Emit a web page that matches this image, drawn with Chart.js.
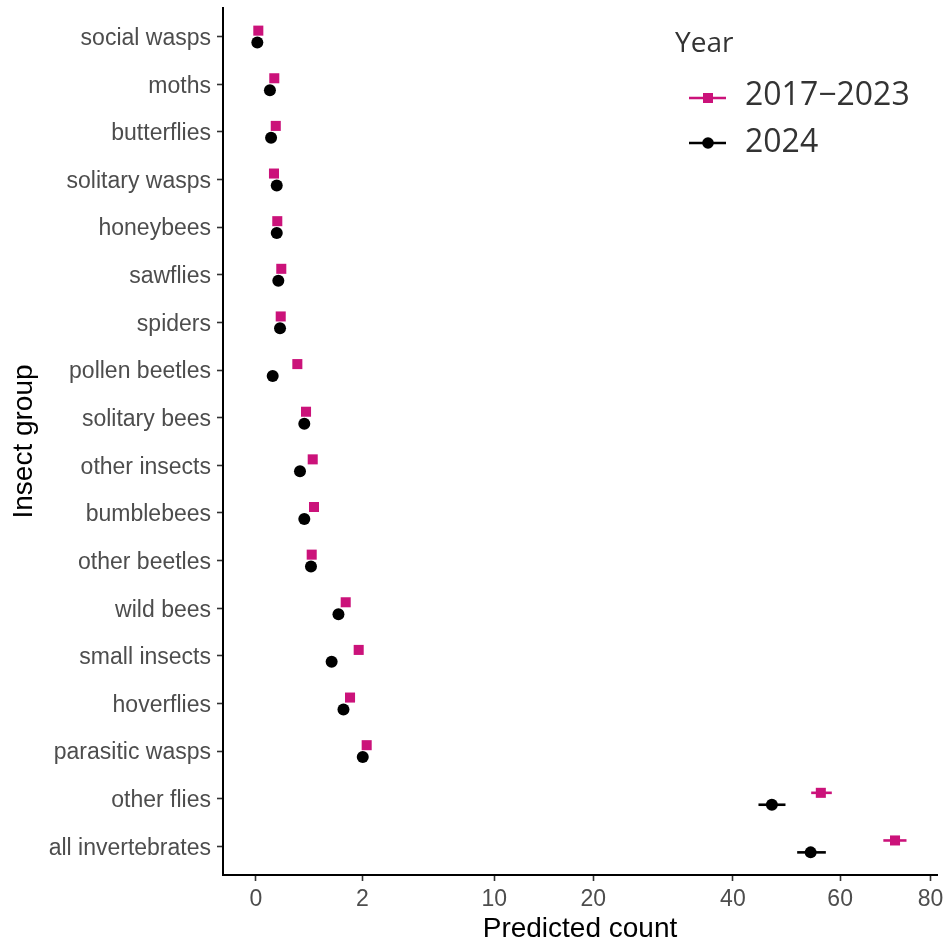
<!DOCTYPE html>
<html>
<head>
<meta charset="utf-8">
<script src="https://cdn.jsdelivr.net/npm/chart.js@4.4.1/dist/chart.umd.min.js"></script>
<style>
  html, body { margin: 0; padding: 0; background: #ffffff; }
  #wrap { width: 946px; height: 945px; position: relative; }
</style>
</head>
<body>
<div id="wrap"><canvas id="chart"></canvas></div>
<script>
// Insect groups, top to bottom
const groups = [
  'social wasps', 'moths', 'butterflies', 'solitary wasps', 'honeybees',
  'sawflies', 'spiders', 'pollen beetles', 'solitary bees', 'other insects',
  'bumblebees', 'other beetles', 'wild bees', 'small insects', 'hoverflies',
  'parasitic wasps', 'other flies', 'all invertebrates'
];

// Predicted counts, 2017–2023 average
const counts2017to2023 = [
  0.0011, 0.060, 0.070, 0.058, 0.081,
  0.114, 0.109, 0.303, 0.443, 0.569,
  0.595, 0.549, 1.42, 1.86, 1.56,
  2.16, 56.1, 71.8
];
const lower2017to2023 = [
  null, null, null, null, null, null, null, null, null, null,
  null, null, null, null, null, null, 54.2, 69.2
];
const upper2017to2023 = [
  null, null, null, null, null, null, null, null, null, null,
  null, null, null, null, null, null, 58.3, 74.4
];

// Predicted counts, 2024
const counts2024 = [
  0.0004, 0.035, 0.041, 0.077, 0.077,
  0.089, 0.103, 0.050, 0.413, 0.343,
  0.413, 0.535, 1.20, 1.01, 1.35,
  2.01, 46.8, 54.1
];
const lower2024 = [
  null, null, null, null, null, null, null, null, null, null,
  null, null, null, null, null, null, 44.4, 51.5
];
const upper2024 = [
  null, null, null, null, null, null, null, null, null, null,
  null, null, null, null, null, null, 49.3, 57.1
];

// Axis ticks on the square-root count scale
const xTickValues = [0, 2, 10, 20, 40, 60, 80];
const xTickLabels = ['0', '2', '10', '20', '40', '60', '80'];

const seriesNames = ['2017\u22122023', '2024'];
const legendTitle = 'Year';

const PINK = '#CB127A';
const BLACK = '#000000';
const DODGE = 0.125;

const sqrtT = v => Math.sqrt(v);

function points(values, shift) {
  return values.map((v, i) => ({ x: sqrtT(v), y: i + shift }));
}

const series = [
  { values: counts2017to2023, lo: lower2017to2023, hi: upper2017to2023, shift: -DODGE, color: PINK, style: 'rect', radius: 7.1 },
  { values: counts2024, lo: lower2024, hi: upper2024, shift: DODGE, color: BLACK, style: 'circle', radius: 6 }
];

// Horizontal interval lines behind each point
const intervalPlugin = {
  id: 'intervals',
  beforeDatasetsDraw(chart) {
    const { ctx, scales: { x, y } } = chart;
    ctx.save();
    ctx.lineWidth = 2.6;
    ctx.lineCap = 'butt';
    series.forEach(s => {
      ctx.strokeStyle = s.color;
      s.values.forEach((v, i) => {
        if (s.lo[i] == null || s.hi[i] == null) return;
        const py = y.getPixelForValue(i + s.shift);
        ctx.beginPath();
        ctx.moveTo(x.getPixelForValue(sqrtT(s.lo[i])), py);
        ctx.lineTo(x.getPixelForValue(sqrtT(s.hi[i])), py);
        ctx.stroke();
      });
    });
    ctx.restore();
  }
};

// Legend drawn inside the panel, top right
const legendPlugin = {
  id: 'yearLegend',
  afterDraw(chart) {
    const { ctx, chartArea } = chart;
    const x0 = chartArea.right - 262;
    ctx.save();
    ctx.fillStyle = '#333333';
    ctx.font = '28px "Open Sans"';
    ctx.textBaseline = 'alphabetic';
    ctx.textAlign = 'left';
    ctx.fillText(legendTitle, x0, 52);
    const rows = [98, 143];
    series.forEach((s, k) => {
      const cy = rows[k];
      ctx.strokeStyle = s.color;
      ctx.lineWidth = 2.6;
      ctx.beginPath();
      ctx.moveTo(x0 + 14, cy);
      ctx.lineTo(x0 + 51, cy);
      ctx.stroke();
      ctx.fillStyle = s.color;
      if (s.style === 'rect') {
        ctx.fillRect(x0 + 33 - 5, cy - 5, 10, 10);
      } else {
        ctx.beginPath();
        ctx.arc(x0 + 33, cy, 5.8, 0, Math.PI * 2);
        ctx.fill();
      }
      ctx.fillStyle = '#333333';
      ctx.font = '32px "Open Sans"';
      ctx.fillText(seriesNames[k], x0 + 70, cy + 8 + (k === 1 ? 1 : -1));
    });
    ctx.restore();
  }
};

new Chart(document.getElementById('chart'), {
  type: 'scatter',
  data: {
    datasets: series.map((s, k) => ({
      label: seriesNames[k],
      data: points(s.values, s.shift),
      pointStyle: s.style,
      pointRadius: s.radius,
      pointHoverRadius: s.radius,
      backgroundColor: s.color,
      borderColor: s.color,
      borderWidth: 0,
      order: k === 0 ? 2 : 1
    }))
  },
  options: {
    responsive: true,
    maintainAspectRatio: false,
    animation: false,
    events: [],
    layout: { padding: { top: 8, right: 9, bottom: 0, left: 0 } },
    plugins: {
      legend: { display: false },
      tooltip: { enabled: false }
    },
    scales: {
      x: {
        type: 'linear',
        position: 'bottom',
        min: -0.435,
        max: 9.03,
        afterBuildTicks(scale) {
          scale.ticks = xTickValues.map(v => ({ value: sqrtT(v) }));
        },
        afterFit(scale) {
          scale.height = 70;
          scale.paddingLeft = 0;
          scale.paddingRight = 0;
        },
        ticks: {
          autoSkip: false,
          maxRotation: 0,
          padding: 5,
          color: '#4D4D4D',
          font: { family: '"Liberation Sans", Arial, sans-serif', size: 23 },
          callback: (value, index) => xTickLabels[index]
        },
        grid: {
          drawOnChartArea: false,
          drawTicks: true,
          tickLength: 6,
          tickWidth: 1.6,
          tickColor: '#333333'
        },
        border: { display: true, color: '#000000', width: 2 },
        title: {
          display: true,
          text: 'Predicted count',
          color: '#000000',
          font: { family: '"Liberation Sans", Arial, sans-serif', size: 28, lineHeight: 1.15 },
          padding: { top: 0, bottom: 0 }
        }
      },
      y: {
        type: 'linear',
        position: 'left',
        reverse: true,
        min: -0.6,
        max: groups.length - 0.4,
        afterBuildTicks(scale) {
          scale.ticks = groups.map((g, i) => ({ value: i }));
        },
        afterFit(scale) {
          scale.width = 223;
          scale.paddingTop = 0;
          scale.paddingBottom = 0;
        },
        ticks: {
          autoSkip: false,
          padding: 6,
          labelOffset: 2,
          color: '#4D4D4D',
          font: { family: '"Liberation Sans", Arial, sans-serif', size: 23 },
          callback: (value, index) => groups[index]
        },
        grid: {
          drawOnChartArea: false,
          drawTicks: true,
          tickLength: 6,
          tickWidth: 1.6,
          tickColor: '#333333'
        },
        border: { display: true, color: '#000000', width: 2 },
        title: {
          display: true,
          text: 'Insect group',
          color: '#000000',
          font: { family: '"Liberation Sans", Arial, sans-serif', size: 28, lineHeight: 1.2 },
          padding: { top: 7, bottom: 0 }
        }
      }
    }
  },
  plugins: [intervalPlugin, legendPlugin]
});
</script>
</body>
</html>
